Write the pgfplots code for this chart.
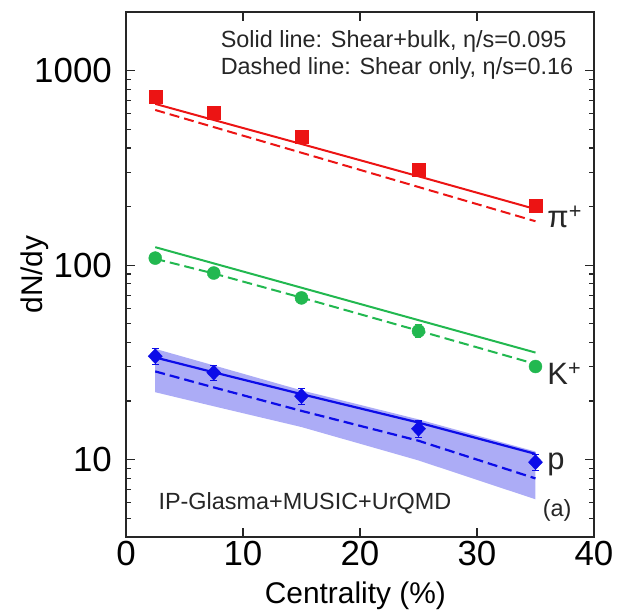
\documentclass[border=0pt]{standalone}
\usepackage{fontspec}
\setmainfont{Liberation Sans}
\usepackage{pgfplots}
\pgfplotsset{compat=1.18}

\definecolor{pired}{RGB}{236,20,20}
\definecolor{kgreen}{RGB}{34,184,80}
\definecolor{pblue}{RGB}{12,12,232}
\definecolor{band}{RGB}{172,172,246}

\begin{document}
\begin{tikzpicture}
\useasboundingbox (-126bp,-79bp) rectangle (502bp,537bp);
\begin{axis}[
    at={(0,0)}, anchor=south west,
    scale only axis, width=468bp, height=525bp,
    xmin=0, xmax=40,
    ymode=log, ymin=4, ymax=2000,
    xtick={0,10,20,30,40},
    ytick={10,100,1000}, yticklabels={10,100,1000},
    minor ytick={4,5,6,7,8,9,20,30,40,50,60,70,80,90,200,300,400,500,600,700,800,900,2000},
    tick align=inside,
    major tick length=9bp, minor tick length=5bp,
    axis line style={line width=1.4bp, black!85},
    every tick/.style={black!85, line width=1.1bp},
    tick label style={font=\fontsize{35}{35}\selectfont},
    /pgf/number format/assume math mode=true,
    xticklabel style={inner sep=0pt, yshift=-4bp},
    yticklabel style={inner sep=0pt, xshift=-14bp},
    xlabel={Centrality (\%)}, ylabel={dN/dy},
    label style={font=\fontsize{30}{30}\selectfont},
    xlabel style={at={(axis description cs:0.49,-0.1276)}, anchor=base},
    ylabel style={at={(axis description cs:-0.1955,0.5)}, anchor=center},
    clip=false,
]

% proton model band
\addplot[draw=none, fill=band, forget plot] coordinates {
    (2.5,37.1) (7.5,30.5) (15,22.7) (25,16.1) (35,11.0)
    (35,6.25) (25,9.9) (15,14.7) (7.5,18.8) (2.5,22.2)};

% pi+
\addplot[pired, line width=2bp, no marks] coordinates {
    (2.5,674) (7.5,557) (15,419) (25,286) (35,194)};
\addplot[pired, line width=2bp, no marks, dash pattern=on 10bp off 5bp] coordinates {
    (2.5,627) (7.5,512) (15,378) (25,252) (35,168)};
\addplot[only marks, mark=square*, mark size=6.5bp, pired] coordinates {
    (2.5,733) (7.5,607) (15,456) (25,310) (35,203)};

% K+
\addplot[kgreen, line width=2bp, no marks] coordinates {
    (2.5,123.6) (7.5,102) (15,76.5) (25,52.1) (35,35.5)};
\addplot[kgreen, line width=2bp, no marks, dash pattern=on 10bp off 5bp] coordinates {
    (2.5,107.7) (7.5,90.5) (15,68) (25,46) (35,31)};
\addplot[only marks, mark=*, mark size=6.5bp, kgreen,
    error bars/.cd, y dir=both, y explicit,
    error bar style={line width=1.2bp},
    error mark options={rotate=90, mark size=3bp, line width=1.2bp}]
    coordinates {
    (2.5,108.6) +- (0,6)
    (7.5,91) +- (0,5)
    (15,67.8) +- (0,4)
    (25,45.8) +- (0,3.5)
    (35,30.1) +- (0,1.5)};

% p
\addplot[pblue, line width=2.2bp, no marks] coordinates {
    (2.5,33.5) (7.5,28.1) (15,21.7) (25,15.5) (35,10.7)};
\addplot[pblue, line width=2.2bp, no marks, dash pattern=on 10bp off 5bp] coordinates {
    (2.5,28.4) (7.5,23.5) (15,17.8) (25,12.5) (35,8.0)};
\addplot[only marks, mark=diamond*, mark size=7.5bp, pblue,
    mark options={xscale=1.25},
    error bars/.cd, y dir=both, y explicit,
    error bar style={line width=1.4bp},
    error mark options={rotate=90, mark size=3.5bp, line width=1.4bp}]
    coordinates {
    (2.5,34) +- (0,3.2)
    (7.5,28) +- (0,2.5)
    (15,21.2) +- (0,2)
    (25,14.4) +- (0,1.4)
    (35,9.7) +- (0,0.9)};

% annotations
\node[anchor=west, font=\fontsize{23.5}{23.5}\selectfont, text=black!85] at (rel axis cs:0.195,0.943) {Solid line: Shear+bulk, η/s=0.095};
\node[anchor=west, font=\fontsize{23.5}{23.5}\selectfont, text=black!85] at (rel axis cs:0.195,0.893) {Dashed line: Shear only, η/s=0.16};
\node[anchor=west, font=\fontsize{23.5}{23.5}\selectfont, text=black!85] at (rel axis cs:0.062,0.065) {IP-Glasma+MUSIC+UrQMD};
\node[anchor=west, font=\fontsize{23.5}{23.5}\selectfont, text=black!85] at (rel axis cs:0.883,0.051) {(a)};
\node[anchor=west, font=\fontsize{31}{31}\selectfont, text=black!85] at (rel axis cs:0.893,0.610) {π\textsuperscript{+}};
\node[anchor=west, font=\fontsize{31}{31}\selectfont, text=black!85] at (rel axis cs:0.893,0.310) {K\textsuperscript{+}};
\node[anchor=west, font=\fontsize{31}{31}\selectfont, text=black!85] at (rel axis cs:0.893,0.138) {p};
\end{axis}
\end{tikzpicture}
\end{document}
